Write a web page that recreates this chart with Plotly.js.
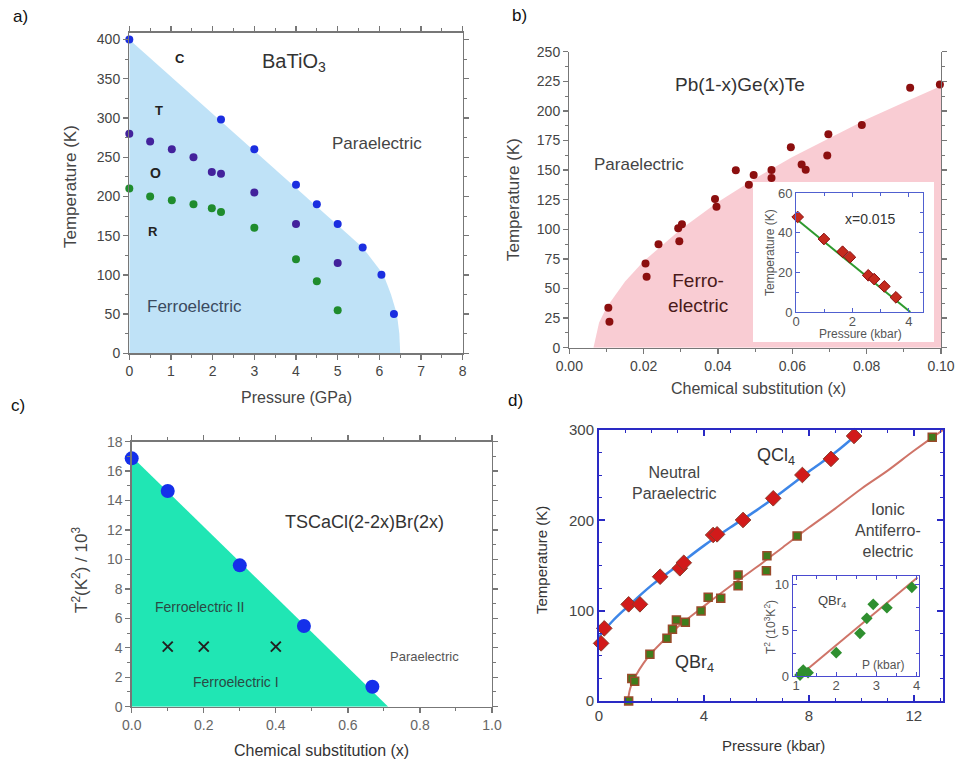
<!DOCTYPE html>
<html><head><meta charset="utf-8">
<script src="https://cdn.plot.ly/plotly-3.0.1.min.js"></script>
<style>html,body{margin:0;padding:0;background:#fff}#chart{width:957px;height:763px}</style>
</head><body><div id="chart"></div>
<script>
// ---------- Panel a: BaTiO3 ----------
const aBlueP   = [0, 2.2, 3, 4, 4.5, 5, 5.6, 6.05, 6.35];
const aBlueT   = [400, 298, 260, 215, 190, 165, 135, 100, 50];
const aPurpleP = [0, 0.5, 1.02, 1.54, 1.98, 2.2, 3, 4, 5];
const aPurpleT = [280, 270, 260, 250, 231, 229, 205, 165, 115];
const aGreenP  = [0, 0.5, 1.02, 1.54, 1.98, 2.2, 3, 4, 4.5, 5];
const aGreenT  = [210, 200, 195, 190, 185, 180, 160, 120, 92, 55];
const aFerroP  = [0, 0, 5.6, 5.85, 6.1, 6.28, 6.42, 6.48, 6.5];
const aFerroT  = [0, 400, 135, 118, 100, 75, 50, 25, 0];

// ---------- Panel b: Pb(1-x)Ge(x)Te ----------
const bX = [0.0105, 0.0108, 0.0205, 0.0208, 0.024, 0.0293, 0.0303, 0.0296, 0.0392, 0.0396, 0.0448, 0.0483, 0.0496, 0.0544, 0.0544, 0.0596, 0.0625, 0.0636, 0.0694, 0.0697, 0.0787, 0.0917, 0.0997];
const bT = [33.8, 22, 71.2, 60, 87.3, 100.8, 104.2, 90, 125.6, 119.1, 149.8, 137.7, 145.8, 150, 143.3, 169.2, 154.8, 150.3, 162.4, 180.2, 188, 219.6, 222.4];
const bFerroX = [0.0065, 0.008, 0.01, 0.015, 0.02, 0.03, 0.04, 0.05, 0.06, 0.07, 0.08, 0.09, 0.1, 0.1];
const bFerroT = [0, 21, 34, 56, 73, 100, 123, 143, 161, 177, 193, 207, 221, 0];
const bInsetP = [0.06, 0.99, 1.65, 1.91, 2.56, 2.77, 3.13, 3.54];
const bInsetT = [47.9, 36.8, 30.4, 27.6, 18.5, 16.6, 12.9, 7.4];
const bFitP = [0, 4.05];
const bFitT = [47, 0];

// ---------- Panel c: TSCaCl(2-2x)Br(2x) ----------
const cX  = [0, 0.1, 0.3, 0.478, 0.668];
const cT2 = [16.87, 14.65, 9.6, 5.48, 1.36];
const cCrossX = [0.1, 0.2, 0.4];
const cCrossT2 = [4.08, 4.08, 4.08];
const cFerroX = [0, 0, 0.712];
const cFerroT2 = [0, 17, 0];

// ---------- Panel d: QCl4 / QBr4 ----------
const dClP = [0.08, 0.2, 1.13, 1.56, 2.33, 3.08, 3.23, 4.35, 4.5, 5.49, 6.64, 7.75, 8.84, 9.72];
const dClT = [63.8, 80.4, 107, 107, 137.6, 146.9, 153, 183.8, 184.5, 200.4, 224.4, 250.2, 268, 293.4];
const dClFitP = [0, 0.5, 1, 2, 3, 4, 5, 6, 7, 8, 9, 9.9];
const dClFitT = [71, 88, 102, 128, 150, 172, 192, 211, 232, 254, 275, 297];
const dBrP = [1.13, 1.25, 1.36, 1.94, 2.59, 2.8, 2.95, 3.29, 3.89, 4.16, 4.64, 5.3, 5.3, 6.38, 6.4, 7.55, 12.7];
const dBrT = [0, 25, 22, 51.7, 69.4, 79.3, 89.7, 87.1, 99.6, 114.8, 113.7, 127.7, 139.5, 144.3, 160.9, 182.7, 291.9];
const dBrFitP = [1.1, 1.15, 1.2, 1.4, 1.7, 2, 2.5, 3, 4, 5, 6, 7, 8, 9, 10, 11, 12, 13.11];
const dBrFitT = [0, 9, 15, 28, 42, 53, 68, 82, 105, 127, 148, 170, 192, 213, 235, 255, 277, 300];
const dInsetP  = [1.1, 1.18, 1.3, 2.0, 2.59, 2.76, 2.92, 3.26, 3.88];
const dInsetT2 = [0.1, 0.65, 0.36, 2.53, 4.64, 6.27, 7.79, 7.42, 9.64];
const dInsetFitP  = [1.08, 4.02];
const dInsetFitT2 = [0, 10.7];

// ---------- helpers ----------
const W = 957, H = 763;
const F = 'Liberation Sans, Arial, Helvetica, sans-serif';
const px = v => v / W;
const py = v => 1 - v / H;

function axis(o) {
  const col = o.lc || '#777';
  const a = {
    domain: o.domain, range: o.range, dtick: o.dtick, tick0: o.tick0 || 0,
    anchor: o.anchor, showline: true, linecolor: col, linewidth: o.lw || 1.3,
    ticks: o.ticks || 'outside', ticklen: o.tl || 5, tickcolor: col, tickwidth: o.lw || 1.3,
    mirror: o.mirror === undefined ? 'ticks' : o.mirror,
    showgrid: false, zeroline: false, fixedrange: true,
    tickfont: {family: F, size: o.fs || 14, color: o.tc || '#444'}
  };
  if (o.tickformat) a.tickformat = o.tickformat;
  if (o.so !== undefined) a.ticklabelstandoff = o.so;
  if (o.minor) a.minor = {dtick: o.minor, tick0: 0, ticks: o.ticks || 'outside', ticklen: 3, tickcolor: col, tickwidth: 1, showgrid: false};
  return a;
}

function txt(xr, yr, x, y, text, size, color, extra) {
  return Object.assign({xref: xr, yref: yr, x: x, y: y, text: text, showarrow: false,
    font: {family: F, size: size, color: color}, xanchor: 'center', yanchor: 'middle'}, extra || {});
}
function ptxt(x, y, text, size, color, extra) { return txt('paper', 'paper', px(x), py(y), text, size, color, extra); }

const traces = [];
// Panel a
traces.push({x: aFerroP, y: aFerroT, xaxis: 'x', yaxis: 'y', mode: 'lines', fill: 'toself', fillcolor: '#bfe2f7', line: {width: 0}, hoverinfo: 'skip'});
traces.push({x: aBlueP, y: aBlueT, xaxis: 'x', yaxis: 'y', mode: 'markers', marker: {size: 8, color: '#1b2ee0'}, cliponaxis: false});
traces.push({x: aPurpleP, y: aPurpleT, xaxis: 'x', yaxis: 'y', mode: 'markers', marker: {size: 8, color: '#43229c'}, cliponaxis: false});
traces.push({x: aGreenP, y: aGreenT, xaxis: 'x', yaxis: 'y', mode: 'markers', marker: {size: 8, color: '#1f8c2d'}, cliponaxis: false});
// Panel b
traces.push({x: bFerroX, y: bFerroT, xaxis: 'x2', yaxis: 'y2', mode: 'lines', fill: 'toself', fillcolor: '#f9ccd3', line: {width: 0}, hoverinfo: 'skip'});
traces.push({x: bX, y: bT, xaxis: 'x2', yaxis: 'y2', mode: 'markers', marker: {size: 8, color: '#8c0f0f'}, cliponaxis: false});
traces.push({x: [], y: [], xaxis: 'x3', yaxis: 'y3', mode: 'markers'});
traces.push({x: bFitP, y: bFitT, xaxis: 'x4', yaxis: 'y4', mode: 'lines', line: {color: '#2e9a2e', width: 2}});
traces.push({x: bInsetP, y: bInsetT, xaxis: 'x4', yaxis: 'y4', mode: 'markers', marker: {size: 9, symbol: 'diamond', color: '#c42a1e', line: {width: 1, color: '#8a1010'}}, cliponaxis: false});
// Panel c
traces.push({x: cFerroX, y: cFerroT2, xaxis: 'x5', yaxis: 'y5', mode: 'lines', fill: 'toself', fillcolor: '#20e6b4', line: {width: 0}, hoverinfo: 'skip'});
traces.push({x: cCrossX, y: cCrossT2, xaxis: 'x5', yaxis: 'y5', mode: 'markers', marker: {size: 10, symbol: 'x-thin-open', color: '#222', line: {width: 2, color: '#222'}}});
traces.push({x: cX, y: cT2, xaxis: 'x5', yaxis: 'y5', mode: 'markers', marker: {size: 14, color: '#1530ea'}, cliponaxis: false});
// Panel d
traces.push({x: dClFitP, y: dClFitT, xaxis: 'x6', yaxis: 'y6', mode: 'lines', line: {color: '#3d86e8', width: 2.5, shape: 'spline'}});
traces.push({x: dBrFitP, y: dBrFitT, xaxis: 'x6', yaxis: 'y6', mode: 'lines', line: {color: '#cf7468', width: 2, shape: 'spline'}});
traces.push({x: dClP, y: dClT, xaxis: 'x6', yaxis: 'y6', mode: 'markers', marker: {size: 12, symbol: 'diamond', color: '#d21a1a', line: {width: 1, color: '#8a3a2a'}}, cliponaxis: false});
traces.push({x: dBrP, y: dBrT, xaxis: 'x6', yaxis: 'y6', mode: 'markers', marker: {size: 8, symbol: 'square', color: '#3f7d1c', line: {width: 1.5, color: '#9a4a2a'}}, cliponaxis: false});
traces.push({x: dInsetFitP, y: dInsetFitT2, xaxis: 'x7', yaxis: 'y7', mode: 'lines', line: {color: '#cf7468', width: 2}});
traces.push({x: dInsetP, y: dInsetT2, xaxis: 'x7', yaxis: 'y7', mode: 'markers', marker: {size: 9, symbol: 'diamond', color: '#2f8f2f'}, cliponaxis: false});

const blue = '#2a2ac4';
const layout = {
  width: W, height: H, margin: {l: 0, r: 0, t: 0, b: 0},
  paper_bgcolor: '#fff', plot_bgcolor: '#fff', showlegend: false,
  font: {family: F, size: 14, color: '#444'},
  xaxis:  axis({domain: [px(129.3), px(462.7)], range: [0, 8], dtick: 1, anchor: 'y', minor: 0.5}),
  yaxis:  axis({domain: [py(353.3), py(32.5)], range: [0, 409], dtick: 50, anchor: 'x', minor: 25}),
  xaxis2: axis({domain: [px(569.3), px(941)], range: [0, 0.1], dtick: 0.02, tickformat: '.2f', anchor: 'y2', minor: 0.01, mirror: false}),
  yaxis2: axis({domain: [py(347.7), py(51.7)], range: [0, 250], dtick: 25, anchor: 'x2', minor: 12.5}),
  xaxis3: {domain: [px(753), px(934)], range: [0, 1], anchor: 'y3', visible: false, fixedrange: true},
  yaxis3: {domain: [py(342), py(182)], range: [0, 1], anchor: 'x3', visible: false, fixedrange: true},
  xaxis4: axis({domain: [px(796), px(923)], range: [0, 4.5], dtick: 2, anchor: 'y4', lc: '#5060d0', ticks: 'inside', tl: 4, fs: 13, tc: '#555', minor: 1, lw: 1, so: -3}),
  yaxis4: axis({domain: [py(312), py(193)], range: [0, 60], dtick: 20, anchor: 'x4', lc: '#5060d0', ticks: 'inside', tl: 4, fs: 13, tc: '#555', minor: 10, lw: 1, so: 0}),
  xaxis5: axis({domain: [px(131.7), px(492)], range: [0, 1], dtick: 0.2, tickformat: '.1f', anchor: 'y5', minor: 0.1, tc: '#666'}),
  yaxis5: axis({domain: [py(706.7), py(441.7)], range: [0, 18], dtick: 2, anchor: 'x5', minor: 1, tc: '#666'}),
  xaxis6: axis({domain: [px(599), px(943)], range: [0, 13.11], dtick: 4, anchor: 'y6', lc: blue, lw: 2, ticks: 'inside', tl: 6, fs: 15, minor: 1}),
  yaxis6: axis({domain: [py(701), py(430)], range: [0, 300], dtick: 100, anchor: 'x6', lc: blue, lw: 2, ticks: 'inside', tl: 6, fs: 15, minor: 25}),
  xaxis7: axis({domain: [px(792.7), px(918.7)], range: [0.918, 4.05], dtick: 1, anchor: 'y7', lc: '#4a4ad0', ticks: 'inside', tl: 4, fs: 13, tc: '#555', minor: 0.5, lw: 1, so: -3}),
  yaxis7: axis({domain: [py(676), py(576)], range: [0, 10.87], dtick: 5, anchor: 'x7', lc: '#4a4ad0', ticks: 'inside', tl: 4, fs: 13, tc: '#555', minor: 2.5, lw: 1, so: 0}),
  annotations: [
    // panel labels
    ptxt(20, 16, 'a)', 17, '#111'),
    ptxt(519, 15, 'b)', 17, '#111'),
    ptxt(18, 405, 'c)', 17, '#111'),
    ptxt(515, 400, 'd)', 17, '#111'),
    // panel a
    ptxt(70, 187, 'Temperature (K)', 17, '#444', {textangle: -90}),
    ptxt(296, 397, 'Pressure (GPa)', 16, '#444'),
    txt('x', 'y', 1.22, 376, '<b>C</b>', 13, '#222'),
    txt('x', 'y', 3.94, 371, 'BaTiO<sub>3</sub>', 20, '#333'),
    txt('x', 'y', 0.72, 309, '<b>T</b>', 13, '#222'),
    txt('x', 'y', 0.62, 230, '<b>O</b>', 14, '#222'),
    txt('x', 'y', 0.58, 155, '<b>R</b>', 13, '#222'),
    txt('x', 'y', 5.94, 267, 'Paraelectric', 17, '#444'),
    txt('x', 'y', 1.56, 60, 'Ferroelectric', 17, '#3a4a60'),
    // panel b
    ptxt(513, 200, 'Temperature (K)', 17, '#444', {textangle: -90}),
    ptxt(758, 388, 'Chemical substitution (x)', 16, '#444'),
    txt('x2', 'y2', 0.0459, 222, 'Pb(1-x)Ge(x)Te', 19, '#333'),
    txt('x2', 'y2', 0.0188, 155, 'Paraelectric', 17, '#444'),
    txt('x2', 'y2', 0.0347, 46, 'Ferro-<br>electric', 19, '#4a1a1a'),
    txt('x4', 'y4', 2.62, 47, 'x=0.015', 14, '#333'),
    ptxt(770, 253, 'Temperature (K)', 12, '#555', {textangle: -90}),
    ptxt(860, 334, 'Pressure (kbar)', 12, '#555'),
    // panel c
    ptxt(80, 570, 'T<sup>2</sup>(K<sup>2</sup>) / 10<sup>3</sup>', 17, '#444', {textangle: -90}),
    ptxt(321, 750, 'Chemical substitution (x)', 16, '#333'),
    txt('x5', 'y5', 0.647, 12.56, 'TSCaCl(2-2x)Br(2x)', 18, '#333'),
    txt('x5', 'y5', 0.187, 6.8, 'Ferroelectric II', 14, '#2a4a44'),
    txt('x5', 'y5', 0.289, 1.7, 'Ferroelectric I', 14, '#2a4a44'),
    txt('x5', 'y5', 0.814, 3.44, 'Paraelectric', 13, '#555'),
    // panel d
    ptxt(541, 560, 'Temperature (K)', 15, '#333', {textangle: -90}),
    ptxt(773, 745, 'Pressure (kbar)', 15, '#333'),
    txt('x6', 'y6', 6.76, 271, 'QCl<sub>4</sub>', 18, '#333'),
    txt('x6', 'y6', 2.86, 241, 'Neutral<br>Paraelectric', 16, '#444'),
    txt('x6', 'y6', 11.02, 189, 'Ionic<br>Antiferro-<br>electric', 16, '#444'),
    txt('x6', 'y6', 3.65, 42, 'QBr<sub>4</sub>', 18, '#333'),
    txt('x7', 'y7', 1.89, 8.08, 'QBr<sub>4</sub>', 13, '#444'),
    txt('x7', 'y7', 3.17, 1.2, 'P (kbar)', 12, '#555'),
    ptxt(770, 627, 'T<sup>2</sup> (10<sup>3</sup>K<sup>2</sup>)', 12, '#555', {textangle: -90})
  ]
};

Plotly.newPlot('chart', traces, layout, {displayModeBar: false, staticPlot: true});
</script>
</body></html>
